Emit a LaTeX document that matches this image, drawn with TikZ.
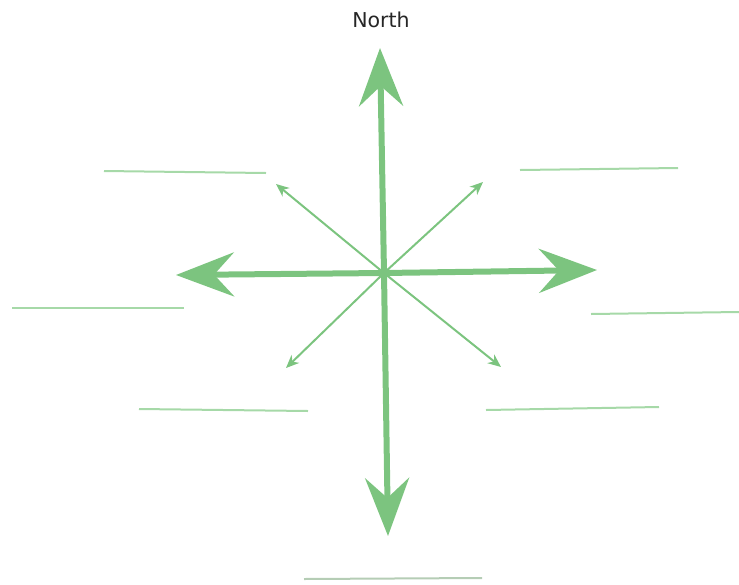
\documentclass[tikz,border=0pt]{standalone}
\usepackage{fontspec}
\setmainfont{DejaVu Sans}
\usetikzlibrary{arrows.meta}
\definecolor{arrowgreen}{HTML}{7CC47F}
\definecolor{linegreen}{HTML}{A6D9A8}
\definecolor{linegray}{HTML}{B5CDB5}
\begin{document}
\begin{tikzpicture}[x=1pt,y=-1pt,
  mainarrow/.style={draw=arrowgreen,line width=6pt,-{Stealth[length=58pt,width=44pt,inset=20pt,fill=arrowgreen]}},
  diagarrow/.style={draw=arrowgreen,line width=2pt,-{Stealth[length=13pt,width=11pt,inset=4pt,fill=arrowgreen]}},
  blank/.style={draw=linegreen,line width=2pt},
  labeltext/.style={font=\fontsize{20.5}{24}\selectfont,text=black!85}]
\useasboundingbox (0,0) rectangle (739,584);
\coordinate (c) at (384,273);
\coordinate (n) at (380,48);
\coordinate (s) at (388,536);
\coordinate (w) at (176,275);
\coordinate (e) at (597,270);
\coordinate (nw) at (276,184);
\coordinate (ne) at (483,182);
\coordinate (sw) at (286,368);
\coordinate (se) at (501,367);
\node[labeltext] (north) at (381,20) {North};
\draw[diagarrow] (c) -- (nw);
\draw[diagarrow] (c) -- (ne);
\draw[diagarrow] (c) -- (sw);
\draw[diagarrow] (c) -- (se);
\draw[mainarrow] (c) -- (n);
\draw[mainarrow] (c) -- (s);
\draw[mainarrow] (c) -- (w);
\draw[mainarrow] (c) -- (e);
\draw[blank] (104,171) -- (266,173);
\draw[blank] (520,170) -- (678,168);
\draw[blank] (12,308) -- (184,308);
\draw[blank] (591,314) -- (739,312);
\draw[blank] (139,409) -- (308,411);
\draw[blank] (486,410) -- (659,407);
\draw[draw=linegray,line width=2pt] (304,579) -- (482,578);
\end{tikzpicture}
\end{document}
